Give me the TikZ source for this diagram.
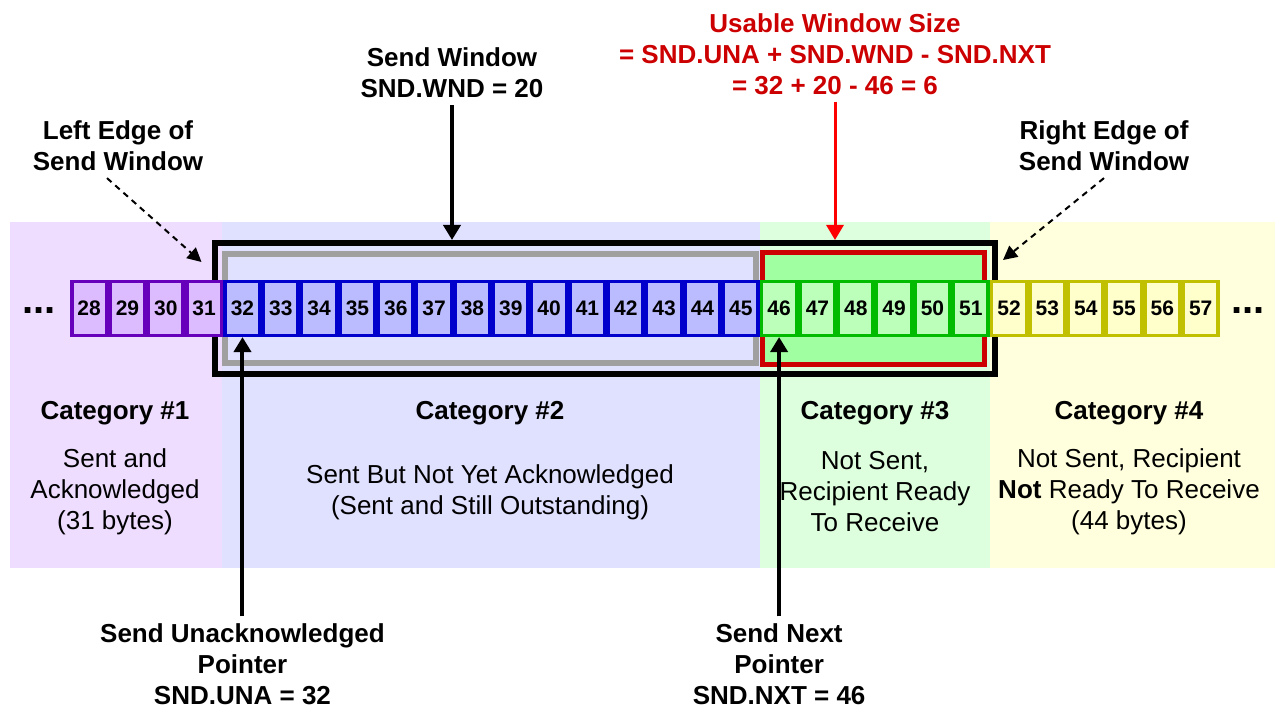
\documentclass[tikz,border=0pt]{standalone}
\usepackage{fontspec}
\setmainfont{Liberation Sans}
\usetikzlibrary{arrows.meta,positioning,calc}
\definecolor{bgone}{HTML}{EEDDFF}
\definecolor{bgtwo}{HTML}{E0E0FF}
\definecolor{bgthree}{HTML}{DDFFDD}
\definecolor{bgfour}{HTML}{FFFFDD}
\definecolor{cellonedraw}{HTML}{6600BB}
\definecolor{cellonefill}{HTML}{DDBBFF}
\definecolor{celltwodraw}{HTML}{0000CC}
\definecolor{celltwofill}{HTML}{BBBBFF}
\definecolor{cellthreedraw}{HTML}{00BB00}
\definecolor{cellthreefill}{HTML}{BBFFBB}
\definecolor{cellfourdraw}{HTML}{C0C000}
\definecolor{cellfourfill}{HTML}{FFFFCC}
\definecolor{usegreen}{HTML}{A0FFA0}
\definecolor{usered}{HTML}{CC0000}
\definecolor{arrred}{HTML}{FF0000}
\definecolor{sentgray}{HTML}{A0A0A0}
\tikzset{
  cell/.style={draw,line width=1.75pt,minimum width=17.4pt,minimum height=26.8pt,inner sep=0pt,font=\fontsize{10.5}{12}\selectfont\bfseries},
  catone/.style={cell,draw=cellonedraw,fill=cellonefill},
  cattwo/.style={cell,draw=celltwodraw,fill=celltwofill},
  catthree/.style={cell,draw=cellthreedraw,fill=cellthreefill},
  catfour/.style={cell,draw=cellfourdraw,fill=cellfourfill},
  winbox/.style={draw=black,line width=3pt,minimum width=390.25pt,minimum height=65.75pt,inner sep=0pt},
  sentbox/.style={draw=sentgray,line width=3pt,minimum width=265.5pt,minimum height=54.25pt,inner sep=0pt},
  usebox/.style={draw=usered,fill=usegreen,line width=2.5pt,minimum width=111pt,minimum height=56pt,inner sep=0pt},
  lbl/.style={font=\fontsize{13}{15.5}\selectfont\bfseries,align=center},
  desc/.style={font=\fontsize{13}{15.5}\selectfont,align=center},
  dots/.style={font=\fontsize{20}{20}\selectfont\bfseries,anchor=base,inner sep=0pt},
  arr/.style={-{Triangle[length=7.5pt,width=8.5pt]},line width=2pt,draw=black},
  rarr/.style={-{Triangle[length=7.5pt,width=8.5pt]},line width=1.5pt,draw=arrred},
  darr/.style={-{Triangle[length=7pt,width=7pt]},line width=1pt,draw=black,dash pattern=on 3pt off 2.5pt},
}
\begin{document}
\begin{tikzpicture}[x=0.5pt,y=-0.5pt]
  \useasboundingbox (0,0) rectangle (1275,710);
  % category backgrounds
  \fill[bgone] (10,222) rectangle (222,568);
  \fill[bgtwo] (222,222) rectangle (760,568);
  \fill[bgthree] (760,222) rectangle (990,568);
  \fill[bgfour] (990,222) rectangle (1275,568);
  % window frames
  \node[winbox] (win) at (604.75,308.75) {};
  \node[sentbox] (sent) at (490.5,308.75) {};
  \node[usebox] (usewin) at (873,309) {};
  % byte cells
  \foreach \n in {28,...,31}
    \node[catone] (c\n) at ({70+(\n-27.5)*38.33},308.5) {\n};
  \foreach \n in {32,...,45}
    \node[cattwo] (c\n) at ({70+(\n-27.5)*38.33},308.5) {\n};
  \foreach \n in {46,...,51}
    \node[catthree] (c\n) at ({70+(\n-27.5)*38.33},308.5) {\n};
  \foreach \n in {52,...,57}
    \node[catfour] (c\n) at ({70+(\n-27.5)*38.33},308.5) {\n};
  \node[dots] (ldots) at (39,314) {...};
  \node[dots] (rdots) at (1248,314) {...};
  % labels above
  \node[lbl,text=usered] (usable) at (835,54) {Usable Window Size\\= SND.UNA + SND.WND - SND.NXT\\= 32 + 20 - 46 = 6};
  \node[lbl] (sendwin) at (452,73) {Send Window\\SND.WND = 20};
  \node[lbl] (leftedge) at (118,146) {Left Edge of\\Send Window};
  \node[lbl] (rightedge) at (1104,146) {Right Edge of\\Send Window};
  % categories
  \node[lbl] (catonehd) at (115,413) {Category \#1};
  \node[lbl] (cattwohd) at (490,413) {Category \#2};
  \node[lbl] (catthreehd) at (875,413) {Category \#3};
  \node[lbl] (catfourhd) at (1129,413) {Category \#4};
  \node[desc] (catonetx) at (115,492) {Sent and\\Acknowledged\\(31 bytes)};
  \node[desc] (cattwotx) at (490,492) {Sent But Not Yet Acknowledged\\(Sent and Still Outstanding)};
  \node[desc] (catthreetx) at (875,492) {Not Sent,\\Recipient Ready\\To Receive};
  \node[desc] (catfourtx) at (1129,492) {Not Sent, Recipient\\\textbf{Not} Ready To Receive\\(44 bytes)};
  % pointers below
  \coordinate (botrow) at (0,664);
  \node[lbl] (unalbl) at (c32 |- botrow) {Send Unacknowledged\\Pointer\\SND.UNA = 32};
  \node[lbl] (nxtlbl) at (c46 |- botrow) {Send Next\\Pointer\\SND.NXT = 46};
  % arrows
  \draw[rarr] (usable.south) -- (usable.south |- win.north);
  \draw[arr] (sendwin.south) -- (sendwin.south |- win.north);
  \draw[darr] ([xshift=-5.5pt]leftedge.south) -- ($(win.north west)+(-10,22)$);
  \draw[darr] (rightedge.south) -- ($(win.north east)+(5,20)$);
  \draw[arr] (unalbl.north) -- (c32.south);
  \draw[arr] (nxtlbl.north) -- (c46.south);
\end{tikzpicture}
\end{document}
